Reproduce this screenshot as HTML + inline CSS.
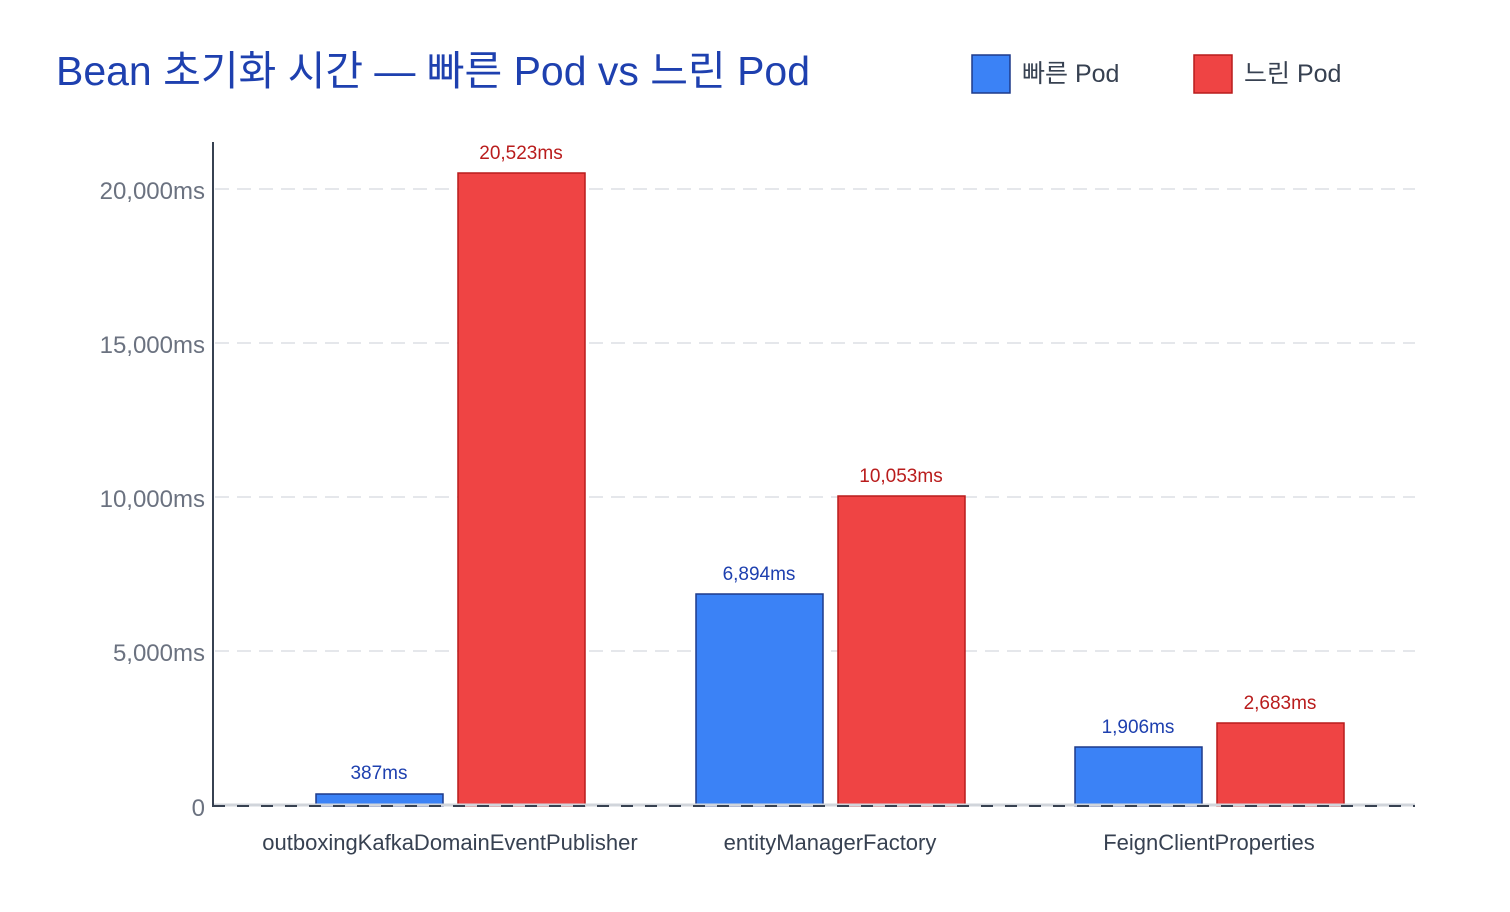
<!DOCTYPE html>
<html><head><meta charset="utf-8"><style>
html,body{margin:0;padding:0;background:#fff;}
svg{display:block;font-family:"Liberation Sans","Noto Sans CJK KR",sans-serif;}
</style></head><body>
<svg width="1510" height="912" viewBox="0 0 1510 912" xmlns="http://www.w3.org/2000/svg">
<rect width="1510" height="912" fill="#fff"/>
<text x="56" y="85" font-size="41" fill="#1e40af" textLength="754" lengthAdjust="spacingAndGlyphs">Bean 초기화 시간 — 빠른 Pod vs 느린 Pod</text>
<rect x="972" y="55" width="38" height="38" fill="#3b82f6" stroke="#1e3a8a" stroke-width="1.5"/>
<text x="1022" y="82" font-size="25" fill="#374151">빠른 Pod</text>
<rect x="1194" y="55" width="38" height="38" fill="#ef4444" stroke="#b91c1c" stroke-width="1.5"/>
<text x="1244" y="82" font-size="25" fill="#374151">느린 Pod</text>
<g stroke="#e5e7eb" stroke-width="2" stroke-dasharray="14,8">
<line x1="215" y1="189" x2="1415" y2="189"/>
<line x1="215" y1="343" x2="1415" y2="343"/>
<line x1="215" y1="497" x2="1415" y2="497"/>
<line x1="215" y1="651" x2="1415" y2="651"/>
</g>
<g font-size="24" fill="#6b7280" text-anchor="end">
<text x="205" y="199">20,000ms</text>
<text x="205" y="353">15,000ms</text>
<text x="205" y="507">10,000ms</text>
<text x="205" y="661">5,000ms</text>
<text x="205" y="816">0</text>
</g>
<g stroke-width="1.5">
<rect x="316" y="794" width="127" height="12" fill="#3b82f6" stroke="#1e3a8a"/>
<rect x="458" y="173" width="127" height="633" fill="#ef4444" stroke="#b91c1c"/>
<rect x="696" y="594" width="127" height="212" fill="#3b82f6" stroke="#1e3a8a"/>
<rect x="838" y="496" width="127" height="310" fill="#ef4444" stroke="#b91c1c"/>
<rect x="1075" y="747" width="127" height="59" fill="#3b82f6" stroke="#1e3a8a"/>
<rect x="1217" y="723" width="127" height="83" fill="#ef4444" stroke="#b91c1c"/>
</g>
<line x1="213" y1="805" x2="1415" y2="805" stroke="#d1d5db" stroke-width="3"/>
<line x1="213" y1="806" x2="1415" y2="806" stroke="#374151" stroke-width="2" stroke-dasharray="12,12"/>
<line x1="213" y1="142" x2="213" y2="807" stroke="#374151" stroke-width="2"/>
<g font-size="19" text-anchor="middle">
<text x="379" y="779" fill="#1e40af">387ms</text>
<text x="521" y="159" fill="#b91c1c">20,523ms</text>
<text x="759" y="580" fill="#1e40af">6,894ms</text>
<text x="901" y="482" fill="#b91c1c">10,053ms</text>
<text x="1138" y="733" fill="#1e40af">1,906ms</text>
<text x="1280" y="709" fill="#b91c1c">2,683ms</text>
</g>
<g font-size="22" fill="#374151" text-anchor="middle">
<text x="450" y="850">outboxingKafkaDomainEventPublisher</text>
<text x="830" y="850">entityManagerFactory</text>
<text x="1209" y="850">FeignClientProperties</text>
</g>
</svg>
</body></html>
